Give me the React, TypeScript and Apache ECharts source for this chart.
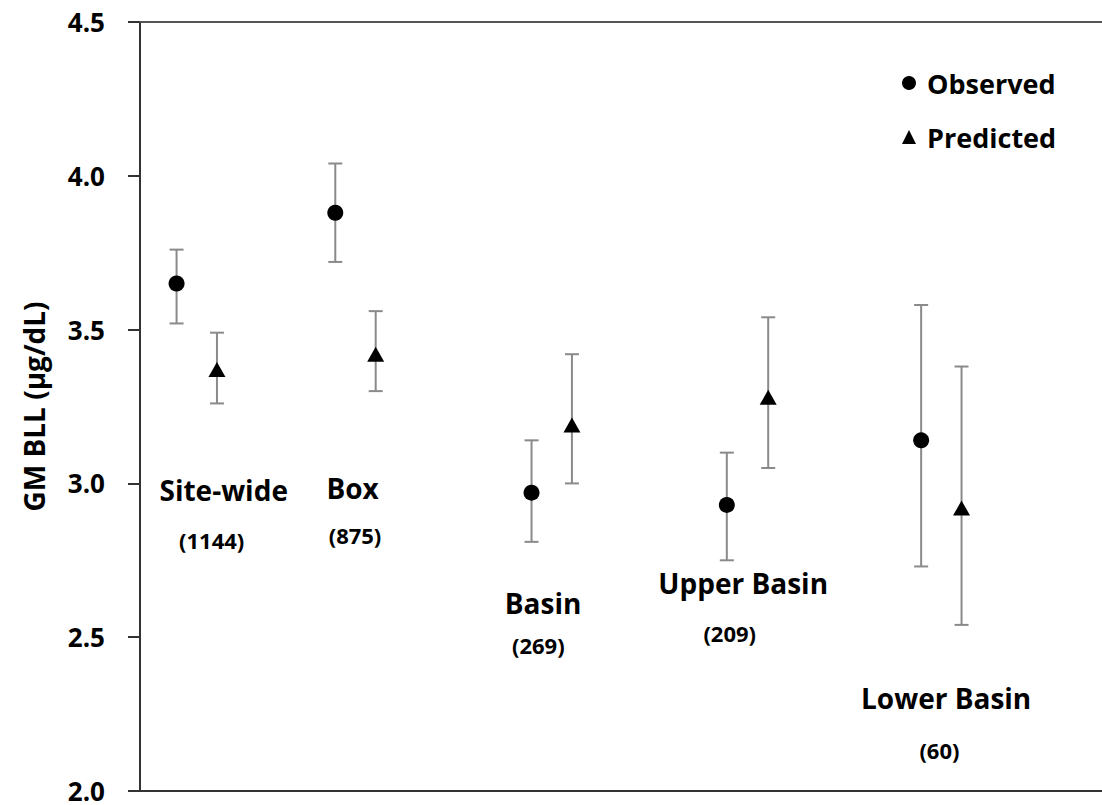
import React, { useEffect, useRef } from "react";
import * as echarts from "echarts";

// Group positions along a hidden 0..10 x scale
const groupNames = ["Site-wide", "Box", "Basin", "Upper Basin", "Lower Basin"];
const groupCounts = ["(1144)", "(875)", "(269)", "(209)", "(60)"];

const obsX = [0.38, 2.03, 4.07, 6.1, 8.12];
const predX = [0.8, 2.45, 4.49, 6.53, 8.54];

const observed = [3.65, 3.88, 2.97, 2.93, 3.14];
const observedLow = [3.52, 3.72, 2.81, 2.75, 2.73];
const observedHigh = [3.76, 4.04, 3.14, 3.1, 3.58];

const predicted = [3.37, 3.42, 3.19, 3.28, 2.92];
const predictedLow = [3.26, 3.3, 3.0, 3.05, 2.54];
const predictedHigh = [3.49, 3.56, 3.42, 3.54, 3.38];

// label anchor positions (data coordinates)
const nameX = [0.87, 2.21, 4.19, 6.27, 8.38];
const nameY = [2.98, 2.985, 2.61, 2.676, 2.302];
const countX = [0.745, 2.235, 4.14, 6.13, 8.31];
const countY = [2.816, 2.832, 2.475, 2.514, 2.133];

const yTicks = [2.0, 2.5, 3.0, 3.5, 4.0, 4.5];

const FONT = "'Open Sans', 'Noto Sans', sans-serif";

export default function App() {
  const ref = useRef<HTMLDivElement>(null);

  useEffect(() => {
    if (!ref.current) return;
    const chart = echarts.init(ref.current, undefined, { renderer: "svg" });

    const errData = [
      ...obsX.map((x, i) => [x, observedLow[i], observedHigh[i]]),
      ...predX.map((x, i) => [x, predictedLow[i], predictedHigh[i]]),
    ];

    const textLabel = (size: number) => ({
      show: true,
      position: "inside",
      formatter: (p: any) => p.name,
      fontFamily: FONT,
      fontSize: size,
      fontWeight: "bold",
      color: "#000",
    });

    const option: any = {
      animation: false,
      backgroundColor: "#ffffff",
      grid: { left: 140, right: 0, top: 22, bottom: 14, containLabel: false },
      legend: {
        data: [
          { name: "Observed", icon: "circle" },
          { name: "Predicted", icon: "triangle" },
        ],
        orient: "vertical",
        left: 897,
        top: 63,
        itemWidth: 14,
        itemHeight: 14,
        itemGap: 24,
        textStyle: {
          fontFamily: FONT,
          fontSize: 27,
          fontWeight: "bold",
          color: "#000",
          lineHeight: 30,
          padding: [0, 0, 0, 6],
        },
      },
      xAxis: [
        {
          type: "value",
          min: 0,
          max: 10,
          position: "bottom",
          axisLine: { show: true, onZero: false, lineStyle: { color: "#333", width: 2 } },
          axisTick: { show: false },
          axisLabel: { show: false },
          splitLine: { show: false },
        },
        {
          type: "value",
          min: 0,
          max: 10,
          position: "top",
          axisLine: { show: true, onZero: false, lineStyle: { color: "#555", width: 2 } },
          axisTick: { show: false },
          axisLabel: { show: false },
          splitLine: { show: false },
        },
      ],
      yAxis: {
        type: "value",
        min: yTicks[0],
        max: yTicks[yTicks.length - 1],
        interval: 0.5,
        name: "GM BLL (µg/dL)",
        nameLocation: "middle",
        nameRotate: 90,
        nameGap: 92,
        nameTextStyle: { fontFamily: FONT, fontSize: 28, fontWeight: "bold", color: "#000" },
        axisLine: { show: true, lineStyle: { color: "#333", width: 2 } },
        axisTick: { show: true, inside: false, length: 12, lineStyle: { color: "#333", width: 2 } },
        axisLabel: {
          fontFamily: FONT,
          fontSize: 26,
          fontWeight: "bold",
          color: "#000",
          margin: 35,
          formatter: (v: number) => v.toFixed(1),
        },
        splitLine: { show: false },
      },
      series: [
        {
          type: "custom",
          name: "errors",
          data: errData,
          z: 1,
          renderItem: (params: any, api: any) => {
            const x = api.value(0);
            const lo = api.coord([x, api.value(1)]);
            const hi = api.coord([x, api.value(2)]);
            const hw = 7;
            const style = { stroke: "#8a8a8a", lineWidth: 2 };
            return {
              type: "group",
              children: [
                { type: "line", shape: { x1: lo[0], y1: lo[1], x2: hi[0], y2: hi[1] }, style },
                { type: "line", shape: { x1: lo[0] - hw, y1: lo[1], x2: lo[0] + hw, y2: lo[1] }, style },
                { type: "line", shape: { x1: hi[0] - hw, y1: hi[1], x2: hi[0] + hw, y2: hi[1] }, style },
              ],
            };
          },
        },
        {
          type: "scatter",
          name: "Observed",
          symbol: "circle",
          symbolSize: 16,
          itemStyle: { color: "#000", opacity: 1 },
          z: 3,
          data: obsX.map((x, i) => [x, observed[i]]),
        },
        {
          type: "scatter",
          name: "Predicted",
          symbol: "triangle",
          symbolSize: [17, 15],
          itemStyle: { color: "#000", opacity: 1 },
          z: 3,
          data: predX.map((x, i) => [x, predicted[i]]),
        },
        {
          type: "scatter",
          name: "names",
          symbolSize: 0,
          silent: true,
          z: 4,
          itemStyle: { opacity: 1 },
          label: textLabel(28),
          data: groupNames.map((n, i) => ({ name: n, value: [nameX[i], nameY[i]] })),
        },
        {
          type: "scatter",
          name: "counts",
          symbolSize: 0,
          silent: true,
          z: 4,
          itemStyle: { opacity: 1 },
          label: textLabel(22),
          data: groupCounts.map((n, i) => ({ name: n, value: [countX[i], countY[i]] })),
        },
      ],
    };

    chart.setOption(option);
    return () => chart.dispose();
  }, []);

  return (
    <div
      ref={ref}
      style={{ position: "fixed", left: 0, top: 0, width: 1102, height: 805, background: "#fff" }}
    />
  );
}
